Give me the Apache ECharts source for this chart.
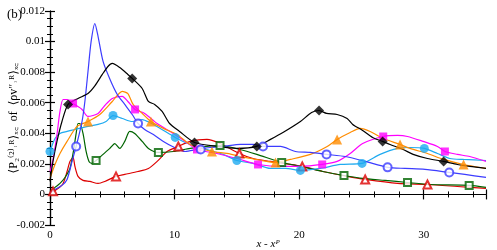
<!DOCTYPE html>
<html><head><meta charset="utf-8">
<script src="https://cdn.jsdelivr.net/npm/echarts@6/dist/echarts.min.js"></script>
<style>html,body{margin:0;padding:0;background:#fff}#c{width:497px;height:250px}</style>
</head><body><div id="c"></div>
<script>
// curves: [x, value]
const blackLine = [[0,0.00085],[0.24,0.00216],[0.56,0.00347],[0.96,0.00477],[1.45,0.00589],[2.25,0.00628],[3.05,0.0066],[3.6,0.0071],[4.2,0.00785],[4.65,0.00837],[5.0,0.00857],[5.6,0.0083],[6.25,0.00785],[6.6,0.00759],[7.4,0.00693],[7.9,0.00608],[8.4,0.00589],[9.0,0.00543],[9.6,0.00464],[10.4,0.00412],[11.6,0.0034],[13.4,0.00314],[15.0,0.00301],[16.6,0.00314],[17.7,0.0036],[18.7,0.00405],[20.1,0.00477],[21.0,0.00536],[21.6,0.00549],[22.2,0.0053],[23.05,0.00523],[23.85,0.00497],[24.3,0.00458],[25.1,0.00419],[25.9,0.00373],[26.7,0.00347],[27.3,0.00327],[28.35,0.00294],[29.15,0.00262],[30.3,0.00235],[31.6,0.00216],[32.7,0.00196],[33.7,0.00183],[35,0.0017]];
const blackMarks = [[1.45,0.00589],[6.6,0.00759],[11.6,0.0034],[16.6,0.00314],[21.6,0.00549],[26.7,0.00347],[31.6,0.00216]];

const blueLine = [[0,0.00013],[0.4,0.00033],[0.96,0.00059],[1.37,0.00098],[1.77,0.00216],[2.1,0.00314],[2.57,0.00477],[2.8,0.00608],[3.05,0.00804],[3.3,0.01],[3.6,0.01118],[3.86,0.01033],[4.26,0.0087],[4.82,0.00752],[5.4,0.00654],[6.0,0.00589],[6.6,0.00523],[7.07,0.00464],[7.6,0.00425],[8.3,0.00392],[9.1,0.00347],[10.0,0.00307],[10.85,0.00281],[11.8,0.00294],[12.85,0.00307],[13.9,0.00314],[15.3,0.00327],[16.3,0.00327],[17.1,0.00314],[18.5,0.00314],[19.7,0.00281],[20.9,0.00275],[22.2,0.00262],[23.7,0.00248],[25.3,0.00216],[27.1,0.00177],[28.5,0.0017],[30.1,0.00164],[32.05,0.00144],[33.3,0.00131],[35,0.00111]];
const blueMarks = [[2.1,0.00314],[7.07,0.00464],[12.1,0.00294],[17.1,0.00314],[22.2,0.00262],[27.1,0.00177],[32.05,0.00144]];

const orangeLine = [[0,0.00105],[0.4,0.00196],[0.8,0.00268],[1.37,0.00347],[2.17,0.00445],[3.05,0.00477],[4.0,0.00523],[5.0,0.00608],[5.8,0.00674],[6.25,0.0066],[6.67,0.00589],[7.4,0.0053],[8.1,0.00477],[9.1,0.00432],[10.2,0.00392],[11.25,0.00327],[13.0,0.00281],[14.2,0.00268],[16.1,0.00235],[18.1,0.00209],[19.3,0.00229],[20.9,0.00262],[22.25,0.00314],[23.05,0.0036],[24.1,0.00405],[24.9,0.00432],[25.7,0.00412],[26.75,0.00366],[28.1,0.00327],[28.9,0.00301],[30.3,0.00268],[31.6,0.00229],[33.2,0.00196],[35,0.0017]];
const orangeMarks = [[3.05,0.00477],[8.1,0.00477],[13.0,0.00281],[18.1,0.00209],[23.05,0.0036],[28.1,0.00327],[33.2,0.00196]];

const magentaLine = [[0,0.0015],[0.24,0.00229],[0.56,0.00392],[0.8,0.00543],[1.05,0.00621],[1.37,0.00621],[1.85,0.00595],[2.57,0.00556],[3.05,0.0051],[3.86,0.0053],[4.4,0.00582],[5.0,0.00628],[5.8,0.00641],[6.25,0.00608],[6.83,0.00556],[7.6,0.0053],[8.6,0.00464],[9.9,0.00399],[10.85,0.00347],[11.8,0.00294],[13.4,0.00268],[15.0,0.00235],[16.7,0.00196],[18.7,0.00183],[20.1,0.00183],[21.85,0.00196],[23.05,0.00216],[24.1,0.00268],[25.1,0.00333],[26.75,0.00379],[27.9,0.00386],[28.7,0.00379],[29.95,0.00347],[31.1,0.00314],[31.7,0.00281],[32.7,0.00262],[33.7,0.00248],[35,0.00216]];
const magentaMarks = [[1.85,0.00595],[6.83,0.00556],[11.8,0.00294],[16.7,0.00196],[21.85,0.00196],[26.75,0.00379],[31.7,0.00281]];

const cyanLine = [[0,0.00281],[0.4,0.00366],[0.8,0.00399],[1.37,0.00412],[2.0,0.00425],[3.05,0.00445],[3.86,0.00458],[4.5,0.00477],[5.06,0.00516],[5.8,0.00497],[6.6,0.00477],[7.4,0.0049],[8.0,0.00471],[8.85,0.00432],[10.05,0.00373],[11.25,0.00327],[12.6,0.00294],[13.9,0.00262],[15.0,0.00222],[16.3,0.00203],[17.7,0.0017],[18.9,0.0017],[20.1,0.00157],[21.7,0.0017],[23.3,0.00196],[25.05,0.00203],[26.5,0.00262],[27.9,0.00301],[28.9,0.00307],[30.05,0.00301],[31.1,0.00268],[32.1,0.00235],[33.2,0.00229],[35,0.00222]];
const cyanMarks = [[0,0.00281],[5.06,0.00516],[10.05,0.00373],[15.0,0.00222],[20.1,0.00157],[25.05,0.00203],[30.05,0.00301]];

const greenLine = [[0,0.00013],[0.4,0.00046],[0.8,0.00072],[1.2,0.00111],[1.6,0.0017],[1.85,0.00268],[2.1,0.00399],[2.25,0.00464],[2.4,0.00464],[2.65,0.00399],[2.9,0.00281],[3.13,0.00216],[3.37,0.00203],[3.7,0.00222],[4.26,0.00262],[4.8,0.00301],[5.2,0.00333],[5.6,0.00301],[6.0,0.00347],[6.4,0.00412],[6.8,0.00399],[7.4,0.00347],[7.9,0.00301],[8.7,0.00275],[9.9,0.00281],[11.25,0.00301],[12.6,0.00314],[13.65,0.0032],[15.25,0.00294],[16.6,0.00262],[18.6,0.00209],[20.1,0.00183],[21.9,0.0015],[23.6,0.00124],[25.1,0.00105],[26.9,0.00092],[28.7,0.00078],[30.5,0.00065],[33.65,0.00059],[35,0.00046]];
const greenMarks = [[3.7,0.00222],[8.7,0.00275],[13.65,0.0032],[18.6,0.00209],[23.6,0.00124],[28.7,0.00078],[33.65,0.00059]];

const redLine = [[0,0.0002],[0.24,0.0002],[0.64,0.00039],[1.05,0.00072],[1.37,0.0015],[1.6,0.00216],[1.85,0.00242],[2.0,0.00183],[2.25,0.00118],[2.65,0.00092],[3.2,0.00085],[3.86,0.00072],[4.4,0.00085],[5.3,0.00118],[6.0,0.00131],[7.07,0.0015],[7.9,0.0017],[8.6,0.00216],[9.4,0.00281],[10.3,0.00314],[11.25,0.00347],[12.6,0.0036],[13.65,0.00333],[15.2,0.00268],[16.3,0.00235],[17.7,0.00216],[20.25,0.00183],[21.9,0.0015],[23.85,0.00118],[25.3,0.00098],[27.9,0.00072],[30.3,0.00065],[32.7,0.00052],[35,0.00039]];
const redMarks = [[0.24,0.0002],[5.3,0.00118],[10.3,0.00314],[15.2,0.00268],[20.25,0.00183],[25.3,0.00098],[30.3,0.00065]];

const xTickLabels = ['0','10','20','30'];
const yTickLabels = ['-0.002','0','0.002','0.004','0.006','0.008','0.01','0.012'];

const FONT = '"Liberation Serif","DejaVu Serif",serif';
const curves = [
  {line: redLine, marks: redMarks, color:'#dd0000', symbol:'triangle', hollow:true, size:8},
  {line: greenLine, marks: greenMarks, color:'#006400', symbol:'rect', hollow:true, size:7},
  {line: cyanLine, marks: cyanMarks, color:'#1eaaf0', symbol:'circle', hollow:false, size:9},
  {line: magentaLine, marks: magentaMarks, color:'#ff00ff', symbol:'rect', hollow:false, size:8},
  {line: orangeLine, marks: orangeMarks, color:'#ff8c00', symbol:'triangle', hollow:false, size:10},
  {line: blueLine, marks: blueMarks, color:'#3c3cff', symbol:'circle', hollow:true, size:8},
  {line: blackLine, marks: blackMarks, color:'#000000', symbol:'diamond', hollow:false, size:10}
];
const series = [];
curves.forEach(c => {
  series.push({type:'line', data:c.line, smooth:0.25, symbol:'none', lineStyle:{color:c.color, width:1.2}, z:2, animation:false});
  series.push({type:'scatter', data:c.marks, symbol:c.symbol, symbolSize:c.size,
    itemStyle: c.hollow ? {color:'#ffffff', borderColor:c.color, borderWidth:2} : {color:c.color},
    z:3, animation:false});
});

const axisCommon = {
  axisLine:{show:true, lineStyle:{color:'#000', width:1.2}},
  axisTick:{show:true, inside:true, length:5, lineStyle:{color:'#000', width:1.2}},
  minorTick:{show:true, splitNumber:4, length:3, lineStyle:{color:'#000', width:1}},
  splitLine:{show:false}
};
const chart = echarts.init(document.getElementById('c'), null, {renderer:'canvas'});
chart.setOption({
  animation:false,
  grid:{left:50, right:11, top:11, bottom:25, containLabel:false, outerBoundsMode:'none'},
  title:{text:'(b)', left:2, top:3, textStyle:{fontFamily:FONT, fontSize:13, fontWeight:'normal', color:'#000'}},
  xAxis:[
    Object.assign({type:'value', min:0, max:35, interval:10, position:'bottom',
      name:'x - x\u1D3E', nameLocation:'middle', nameGap:14, nameMoveOverlap:false,
      nameTextStyle:{fontFamily:FONT, fontStyle:'italic', fontSize:11, color:'#000'},
      axisLabel:{fontFamily:FONT, fontSize:11, color:'#000', margin:5,
        formatter:v => xTickLabels[Math.round(v/10)] ?? ''}}, axisCommon,
      {minorTick:{show:true, splitNumber:5, length:3, lineStyle:{color:'#000', width:1}}}),
    Object.assign({type:'value', min:0, max:35, interval:10, position:'top', axisLabel:{show:false}}, axisCommon,
      {minorTick:{show:true, splitNumber:5, length:3, lineStyle:{color:'#000', width:1}}})
  ],
  yAxis:[
    Object.assign({type:'value', min:-0.002, max:0.012, interval:0.002, position:'left',
      name:'\u27E8P\u2082\u207D\u00B2\u207E\u02D2\u1D3F\u27E9\u2093\ua700  of  \u27E8\u03C1v\u2033\u02D2\u1D3F\u27E9\u2093\ua700',
      nameLocation:'middle', nameGap:30, nameRotate:90, nameMoveOverlap:false,
      nameTextStyle:{fontFamily:FONT, fontSize:12, color:'#000'},
      axisLabel:{fontFamily:FONT, fontSize:11, color:'#000', margin:5,
        formatter:v => yTickLabels[Math.round((v+0.002)/0.002)] ?? ''}}, axisCommon),
    Object.assign({type:'value', min:-0.002, max:0.012, interval:0.002, position:'right', axisLabel:{show:false}}, axisCommon)
  ],
  series: series
});
</script></body></html>
